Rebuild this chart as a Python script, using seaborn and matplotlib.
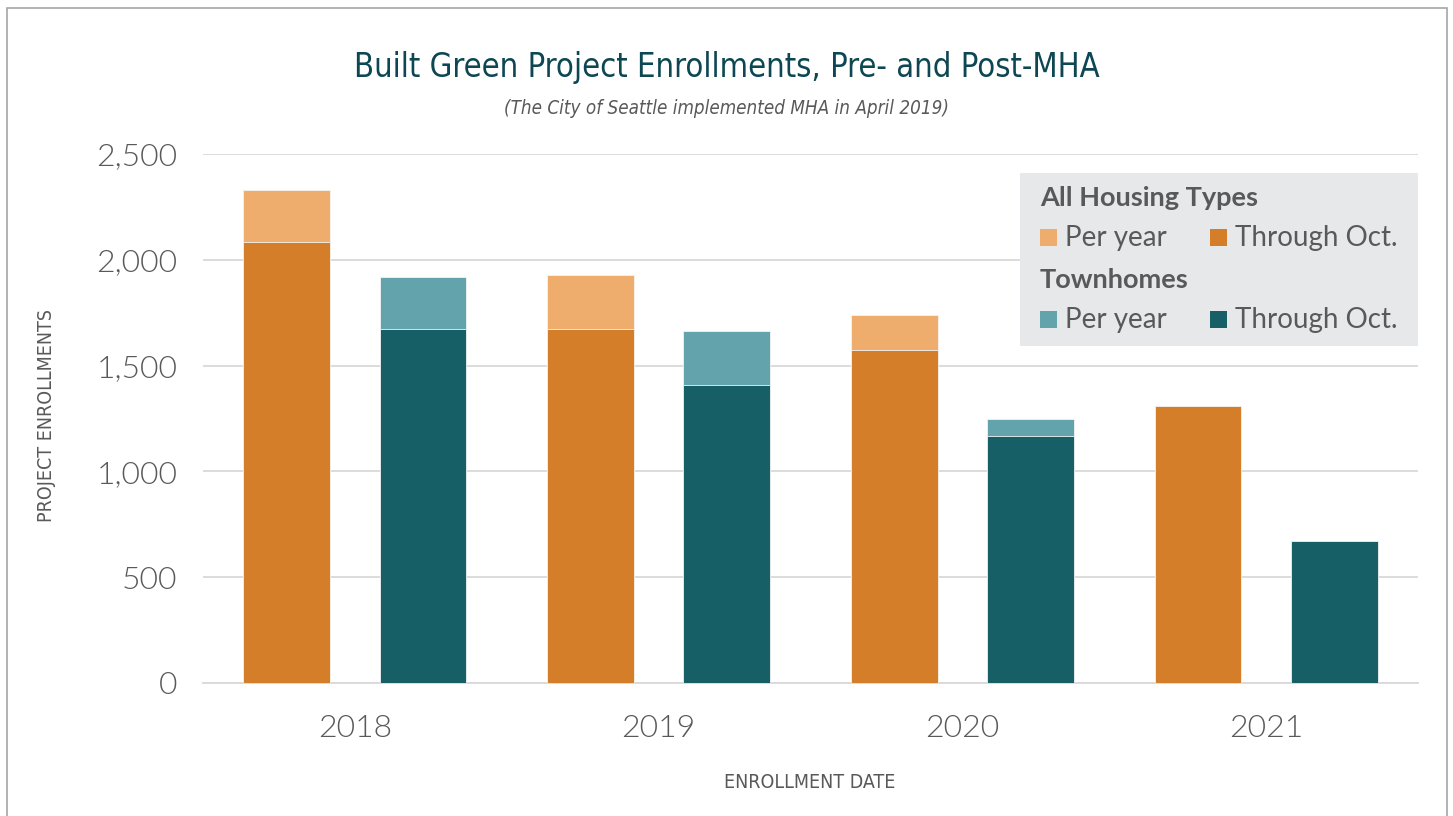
import matplotlib
matplotlib.use("Agg")
import matplotlib.pyplot as plt
import matplotlib.patches as mpatches
import numpy as np
import pandas as pd
import seaborn as sns

years = ["2018", "2019", "2020", "2021"]
groups = ["All Housing Types", "Townhomes"]
all_per_year = [2330, 1930, 1739, 1309]
all_through_oct = [2084, 1673, 1572, 1309]
town_per_year = [1919, 1662, 1248, 671]
town_through_oct = [1675, 1408, 1166, 671]
y_ticks = [0, 500, 1000, 1500, 2000, 2500]

per_year_df = pd.DataFrame({
    "year": years * 2,
    "group": [groups[0]] * 4 + [groups[1]] * 4,
    "value": all_per_year + town_per_year,
})
through_df = pd.DataFrame({
    "year": years * 2,
    "group": [groups[0]] * 4 + [groups[1]] * 4,
    "value": all_through_oct + town_through_oct,
})

sns.set_theme(style="white")
plt.rcParams["font.family"] = ["Lato", "DejaVu Sans"]

W, H = 1453, 816
fig = plt.figure(figsize=(W / 100, H / 100), dpi=100)
ax = fig.add_axes([203 / W, (H - 683) / H, (1418 - 203) / W, (683 - 154) / H])

light = {"All Housing Types": "#EEAD6D", "Townhomes": "#62A3AC"}
dark = {"All Housing Types": "#D47E29", "Townhomes": "#175F66"}

sns.barplot(data=per_year_df, x="year", y="value", hue="group", order=years,
            hue_order=groups, palette=light, width=0.896, gap=0.362, saturation=1,
            edgecolor="#F4F4F4", linewidth=0.6, ax=ax, legend=False, zorder=2)
sns.barplot(data=through_df, x="year", y="value", hue="group", order=years,
            hue_order=groups, palette=dark, width=0.896, gap=0.362, saturation=1,
            edgecolor="#F4F4F4", linewidth=0.6, ax=ax, legend=False, zorder=3)

ax.set_xlim(-0.5, 3.5)
ax.set_ylim(0, 2500)
ax.set_yticks(y_ticks)
ax.set_yticklabels([f"{v:,}" for v in y_ticks])
ax.yaxis.grid(True, color="#D9D9D9", linewidth=1.3, zorder=0)
ax.set_axisbelow(True)
for s in ["top", "right", "left"]:
    ax.spines[s].set_visible(False)
ax.spines["bottom"].set_color("#D9D9D9")
ax.spines["bottom"].set_linewidth(1.3)

ax.tick_params(axis="y", length=0, pad=18.5, labelsize=23, labelcolor="#595959")
ax.tick_params(axis="x", which="major", length=0, pad=22, labelsize=23, labelcolor="#595959")
ax.set_xticks(np.arange(-0.5, 4.0, 1.0), minor=True)
ax.tick_params(axis="x", which="minor", length=43, width=1.3, color="#D9D9D9", direction="out")
for lab in ax.get_yticklabels() + ax.get_xticklabels():
    lab.set_fontweight(300)

ax.set_xlabel("")
ax.set_ylabel("")

cond = dict(family=["DejaVu Sans"], fontstretch="condensed")
fig.text(727 / W, 1 - 68 / H, "Built Green Project Enrollments, Pre- and Post-MHA",
         ha="center", va="center", fontsize=23.5, color="#0D4753", **cond)
fig.text(727 / W, 1 - 109 / H, "(The City of Seattle implemented MHA in April 2019)",
         ha="center", va="center", fontsize=13.5, style="italic", color="#595959", **cond)
fig.text(47 / W, 1 - 415 / H, "PROJECT ENROLLMENTS", rotation=90, ha="center", va="center",
         fontsize=14, color="#595959", **cond)
fig.text(810 / W, 1 - 782 / H, "ENROLLMENT DATE", ha="center", va="center",
         fontsize=14, color="#595959", **cond)

# legend box
fig.patches.append(mpatches.Rectangle((1020 / W, 1 - 346 / H), (1418 - 1020) / W, (346 - 173) / H,
                                      transform=fig.transFigure, facecolor="#E7E8EA",
                                      edgecolor="none", zorder=5))
def fy(y):
    return 1 - y / H
fig.text(1040 / W, fy(198), "All Housing Types", ha="left", va="center", fontsize=19.5,
         fontweight="bold", color="#595959", zorder=6)
fig.text(1040 / W, fy(280), "Townhomes", ha="left", va="center", fontsize=19.5,
         fontweight="bold", color="#595959", zorder=6)
rows = [(238, light[groups[0]], dark[groups[0]]), (320, light[groups[1]], dark[groups[1]])]
for yy, c1, c2 in rows:
    for x0, c, txt in [(1040, c1, "Per year"), (1210, c2, "Through Oct.")]:
        fig.patches.append(mpatches.Rectangle((x0 / W, fy(yy + 8)), 17 / W, 17 / H,
                                              transform=fig.transFigure, facecolor=c,
                                              edgecolor="none", zorder=6))
        fig.text((x0 + 25) / W, fy(yy), txt, ha="left", va="center", fontsize=20,
                 color="#595959", zorder=6)

# outer frame
fig.patches.append(mpatches.Rectangle((7 / W, -0.01), (1447 - 7) / W, 1 - 8 / H + 0.01,
                                      transform=fig.transFigure, facecolor="none",
                                      edgecolor="#A6A6A6", linewidth=1.2, zorder=10))

fig.savefig("out.png", dpi=100)
